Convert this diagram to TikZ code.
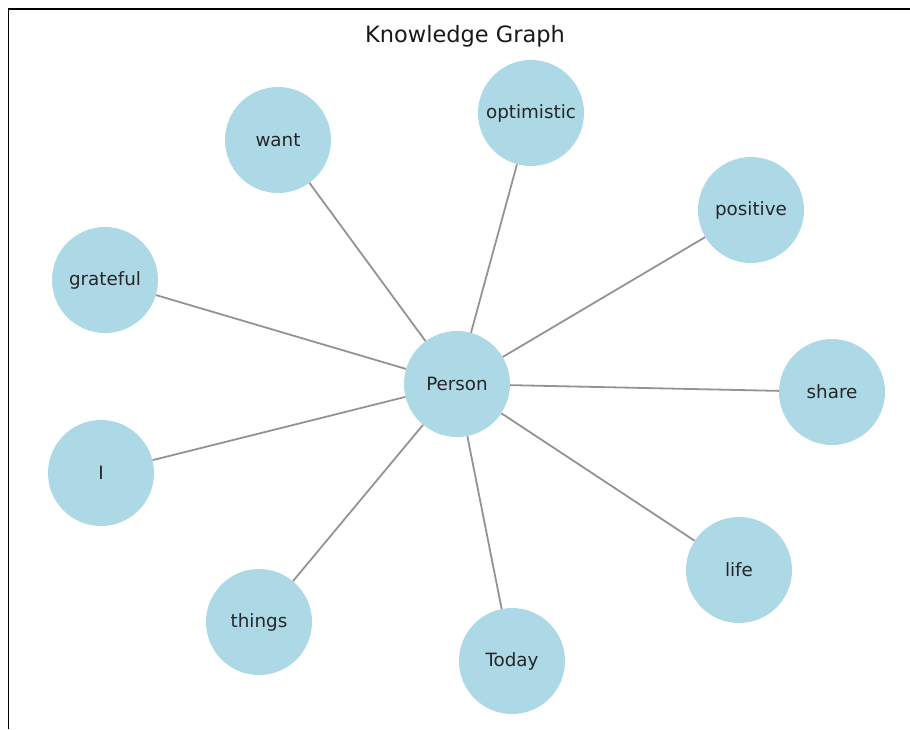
\documentclass[tikz,border=0pt]{standalone}
\usepackage{fontspec}
\setmainfont{DejaVu Sans}
\begin{document}
\begin{tikzpicture}[x=1pt,y=-1pt,
word/.style={circle,fill=nodeblue,minimum size=106pt,inner sep=0pt,text=black!85,font=\fontsize{18.3}{21}\selectfont},
link/.style={draw=gray!85,line width=1.8pt}]
\definecolor{nodeblue}{RGB}{173,216,230}
\useasboundingbox (0,0) rectangle (910,729);
\draw[line width=1.8pt] (8.5,729)--(8.5,9)--(910,9);
\node[font=\fontsize{22.5}{26}\selectfont,text=black!90] (title) at (465,36) {Knowledge Graph};
\node[word] (person) at (457,384) {Person};
\node[word] (want) at (278,140) {want};
\node[word] (optimistic) at (531,113) {optimistic};
\node[word] (positive) at (751,210) {positive};
\node[word] (grateful) at (105,280) {grateful};
\node[word] (share) at (832,392) {share};
\node[word] (I) at (101,473) {I};
\node[word] (life) at (739,570) {life};
\node[word] (things) at (259,622) {things};
\node[word] (today) at (512,661) {Today};
\foreach \n in {want,optimistic,positive,grateful,share,I,life,things,today}
  \draw[link] (person)--(\n);
\end{tikzpicture}
\end{document}
